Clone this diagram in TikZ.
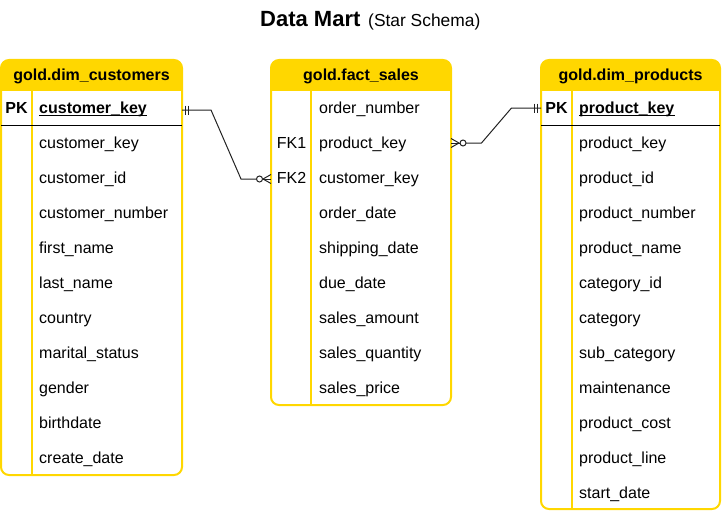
\documentclass[tikz,border=0pt]{standalone}
\usepackage{fontspec}
\setmainfont{Liberation Sans}
\definecolor{gold}{HTML}{FFD700}
\definecolor{lnk}{HTML}{222222}
\begin{document}
\begin{tikzpicture}[x=1pt,y=-1pt,
  tbl/.style={draw=gold, line width=2pt, rounded corners=8pt, anchor=north west, inner sep=0pt, outer sep=0pt},
  fld/.style={anchor=base west, inner sep=0pt, font=\fontsize{16}{19}\selectfont},
  keytxt/.style={anchor=base, inner sep=0pt, font=\fontsize{16}{19}\selectfont},
  hdr/.style={anchor=base, inner sep=0pt, font=\fontsize{16}{19}\selectfont\bfseries},
  divider/.style={draw=gold, line width=2pt},
  pkline/.style={draw=black, line width=1pt},
  conn/.style={draw=lnk, line width=1pt},
  erdmark/.style={draw=lnk, line width=1pt}]
\useasboundingbox (0,0) rectangle (722,511);

% title
\node[anchor=base west, inner sep=0pt, font=\fontsize{22}{26}\selectfont\bfseries] (ttl) at (260,27) {Data Mart};
\node[anchor=base west, inner sep=0pt, font=\fontsize{17.4}{20}\selectfont] (sub) at (368,27) {(Star Schema)};

% ---------- customers ----------
\node[tbl, minimum width=181pt, minimum height=415pt] (cust) at (1,60) {};
\begin{scope}
  \clip[rounded corners=8pt] (cust.north west) rectangle (cust.south east);
  \fill[gold] (cust.north west) rectangle ([yshift=-31pt]cust.north east);
\end{scope}
\draw[divider] (32,91) -- (32,475);
\draw[pkline] (1,125) -- (182,125);
\node[hdr] (custh) at (91.5,81) {gold.dim\_customers};
\node[keytxt, font=\fontsize{16}{19}\selectfont\bfseries] (custpk) at (16.5,113.5) {PK};
\node[fld, font=\fontsize{16}{19}\selectfont\bfseries] (custk) at (39,113.5) {customer\_key};
\draw[line width=1pt] ([yshift=-1.5pt]custk.base west) -- ([yshift=-1.5pt]custk.base east);
\foreach \t [count=\i from 0] in {customer\_key,customer\_id,customer\_number,first\_name,last\_name,country,marital\_status,gender,birthdate,create\_date}
  \node[fld] (cf\i) at (39,{148.5+35*\i}) {\t};

% ---------- fact sales ----------
\node[tbl, minimum width=180pt, minimum height=345pt] (fact) at (271,60) {};
\begin{scope}
  \clip[rounded corners=8pt] (fact.north west) rectangle (fact.south east);
  \fill[gold] (fact.north west) rectangle ([yshift=-31pt]fact.north east);
\end{scope}
\draw[divider] (311,91) -- (311,405);
\node[hdr] (facth) at (361,81) {gold.fact\_sales};
\node[keytxt] (fk1) at (291.5,148.5) {FK1};
\node[keytxt] (fk2) at (291.5,183.5) {FK2};
\foreach \t [count=\i from 0] in {order\_number,product\_key,customer\_key,order\_date,shipping\_date,due\_date,sales\_amount,sales\_quantity,sales\_price}
  \node[fld] (ff\i) at (319,{113.5+35*\i}) {\t};

% ---------- products ----------
\node[tbl, minimum width=179pt, minimum height=449pt] (prod) at (541,60) {};
\begin{scope}
  \clip[rounded corners=8pt] (prod.north west) rectangle (prod.south east);
  \fill[gold] (prod.north west) rectangle ([yshift=-31pt]prod.north east);
\end{scope}
\draw[divider] (572,91) -- (572,509);
\draw[pkline] (541,125) -- (720,125);
\node[hdr] (prodh) at (630.5,81) {gold.dim\_products};
\node[keytxt, font=\fontsize{16}{19}\selectfont\bfseries] (prodpk) at (556.5,113.5) {PK};
\node[fld, font=\fontsize{16}{19}\selectfont\bfseries] (prodk) at (579,113.5) {product\_key};
\draw[line width=1pt] ([yshift=-1.5pt]prodk.base west) -- ([yshift=-1.5pt]prodk.base east);
\foreach \t [count=\i from 0] in {product\_key,product\_id,product\_number,product\_name,category\_id,category,sub\_category,maintenance,product\_cost,product\_line,start\_date}
  \node[fld] (pf\i) at (579,{148.5+35*\i}) {\t};

% ---------- connector customers -> fact ----------
\coordinate (a0) at (cust.east |- 0,110);
\coordinate (a1) at (211,110);
\coordinate (a2) at (241,179);
\coordinate (a3) at (fact.west |- 0,179);
\draw[conn] (a0) -- (a1) -- (a2) -- ([xshift=-15pt]a3);
% one-and-only-one bars
\draw[erdmark] ([xshift=3pt,yshift=4.5pt]a0) -- ([xshift=3pt,yshift=-4.5pt]a0);
\draw[erdmark] ([xshift=6pt,yshift=4.5pt]a0) -- ([xshift=6pt,yshift=-4.5pt]a0);
% zero-or-many
\draw[erdmark] ([xshift=-11.5pt]a3) circle (3pt);
\draw[erdmark] ([xshift=-8pt]a3) -- ([yshift=4.5pt]a3);
\draw[erdmark] ([xshift=-8pt]a3) -- ([yshift=-4.5pt]a3);
\draw[erdmark] ([xshift=-8.5pt]a3) -- (a3);

% ---------- connector fact -> products ----------
\coordinate (b0) at (fact.east |- 0,143);
\coordinate (b1) at (481.5,143);
\coordinate (b2) at (511.5,108);
\coordinate (b3) at (prod.west |- 0,108);
\draw[conn] ([xshift=15pt]b0) -- (b1) -- (b2) -- (b3);
\draw[erdmark] ([xshift=12pt]b0) circle (3pt);
\draw[erdmark] ([xshift=8pt]b0) -- ([yshift=4.5pt]b0);
\draw[erdmark] ([xshift=8pt]b0) -- ([yshift=-4.5pt]b0);
\draw[erdmark] ([xshift=9pt]b0) -- (b0);
\draw[erdmark] ([xshift=-4pt,yshift=4.5pt]b3) -- ([xshift=-4pt,yshift=-4.5pt]b3);
\draw[erdmark] ([xshift=-7pt,yshift=4.5pt]b3) -- ([xshift=-7pt,yshift=-4.5pt]b3);
\end{tikzpicture}
\end{document}
